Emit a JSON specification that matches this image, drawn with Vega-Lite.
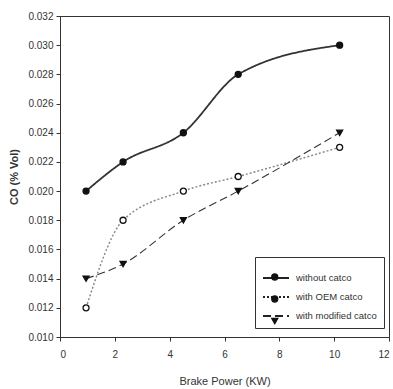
{
  "$schema": "https://vega.github.io/schema/vega-lite/v6.json",
  "autosize": "none",
  "width": 329,
  "height": 321,
  "padding": {"left": 60, "top": 16, "right": 4, "bottom": 52},
  "background": "white",
  "config": {
    "font": "Liberation Sans",
    "view": {"stroke": "#333", "strokeWidth": 1},
    "axis": {"grid": false, "domainColor": "#333", "tickColor": "#333", "labelColor": "#333", "titleColor": "#333", "labelFontSize": 10, "tickSize": 4}
  },
  "data": {"values": [
    {"bp": 0.95, "co": 0.020, "series": "without catco", "curve": "without catco"},
    {"bp": 2.3, "co": 0.022, "series": "without catco", "curve": "without catco"},
    {"bp": 4.5, "co": 0.024, "series": "without catco", "curve": "without catco"},
    {"bp": 6.5, "co": 0.028, "series": "without catco", "curve": "without catco"},
    {"bp": 10.2, "co": 0.030, "series": "without catco", "curve": "without catco"},
    {"bp": 0.95, "co": 0.012, "series": "with OEM catco", "curve": "with OEM catco"},
    {"bp": 2.3, "co": 0.018, "series": "with OEM catco", "curve": "with OEM catco"},
    {"bp": 4.5, "co": 0.020, "series": "with OEM catco", "curve": "with OEM catco"},
    {"bp": 6.5, "co": 0.021, "series": "with OEM catco", "curve": "with OEM catco"},
    {"bp": 10.2, "co": 0.023, "series": "with OEM catco", "curve": "with OEM catco"},
    {"bp": 0.95, "co": 0.014, "series": "with modified catco", "curve": "with modified catco"},
    {"bp": 2.3, "co": 0.015, "series": "with modified catco", "curve": "with modified catco"},
    {"bp": 4.5, "co": 0.018, "series": "with modified catco", "curve": "with modified catco"},
    {"bp": 6.5, "co": 0.020, "series": "with modified catco", "curve": "with modified catco"},
    {"bp": 10.2, "co": 0.024, "series": "with modified catco", "curve": "with modified catco"}
  ]},
  "encoding": {
    "x": {"field": "bp", "type": "quantitative", "scale": {"domain": [0, 12], "nice": false},
      "axis": {"values": [0, 2, 4, 6, 8, 10, 12], "title": "Brake Power (KW)", "titleFontSize": 11, "titleFontWeight": "normal", "titlePadding": 16, "labelPadding": 8}},
    "y": {"field": "co", "type": "quantitative", "scale": {"domain": [0.010, 0.032], "nice": false, "zero": false},
      "axis": {"values": [0.010, 0.012, 0.014, 0.016, 0.018, 0.020, 0.022, 0.024, 0.026, 0.028, 0.030, 0.032], "format": ".3f", "title": "CO (% Vol)", "titleFontSize": 11, "titleFontWeight": "bold", "titlePadding": 8, "labelPadding": 3}}
  },
  "layer": [
    {
      "mark": {"type": "line", "interpolate": "monotone"},
      "encoding": {
        "strokeDash": {"field": "curve", "type": "nominal", "sort": ["without catco", "with OEM catco", "with modified catco"], "scale": {"range": [[1, 0], [2, 2], [8, 4]]},
          "legend": {"title": null, "orient": "none", "legendX": 195, "legendY": 241, "strokeColor": "#333", "padding": 7, "labelFontSize": 9.5, "labelColor": "#333", "rowPadding": -13, "symbolType": "stroke", "symbolSize": 676, "symbolStrokeColor": "#222", "symbolStrokeWidth": 1.8, "labelOffset": 6, "labelLimit": 200}},
        "strokeWidth": {"field": "curve", "type": "nominal", "sort": ["without catco", "with OEM catco", "with modified catco"], "scale": {"range": [1.8, 1.1, 2.2]}, "legend": null},
        "color": {"field": "curve", "type": "nominal", "sort": ["without catco", "with OEM catco", "with modified catco"], "scale": {"range": ["#333", "#888", "#333"]}, "legend": null}
      }
    },
    {
      "mark": {"type": "point", "filled": false, "size": 36, "strokeWidth": 1.3, "opacity": 1},
      "encoding": {
        "shape": {"field": "series", "type": "nominal", "sort": ["without catco", "with OEM catco", "with modified catco"], "scale": {"range": ["circle", "circle", "triangle-down"]},
          "legend": {"title": null, "orient": "none", "legendX": 197, "legendY": 243.25, "padding": 7, "labelFontSize": 21.5, "labelExpr": "' '", "rowPadding": -13, "symbolSize": 36, "symbolFillColor": "#111", "symbolStrokeColor": "#111", "symbolStrokeWidth": 1.3, "labelOffset": 2}},
        "fill": {"field": "series", "type": "nominal", "sort": ["without catco", "with OEM catco", "with modified catco"], "scale": {"range": ["#111", "white", "#111"]}, "legend": null},
        "stroke": {"value": "#111"}
      }
    }
  ]
}
